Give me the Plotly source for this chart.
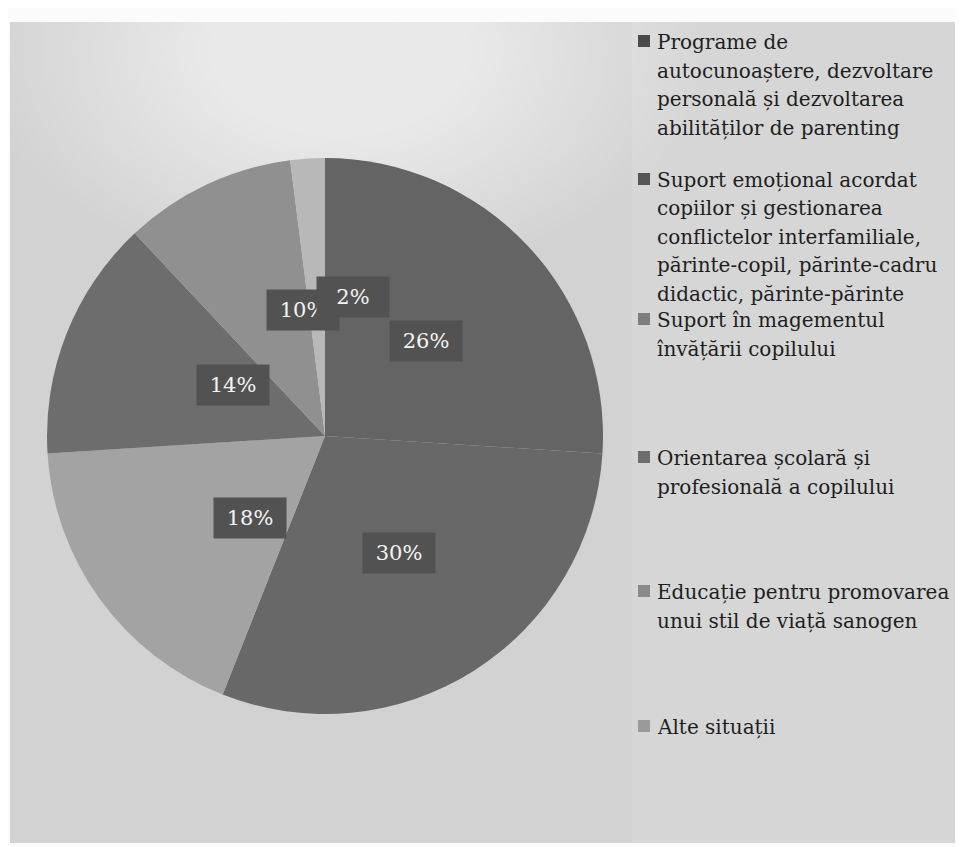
import math
import plotly.graph_objects as go

# ---- data ----
categories = [
    "Programe de<br>autocunoaștere, dezvoltare<br>personală și dezvoltarea<br>abilităților de parenting",
    "Suport emoțional acordat<br>copiilor și gestionarea<br>conflictelor interfamiliale,<br>părinte-copil, părinte-cadru<br>didactic, părinte-părinte",
    "Suport în magementul<br>învățării copilului",
    "Orientarea școlară și<br>profesională a copilului",
    "Educație pentru promovarea<br>unui stil de viață sanogen",
    "Alte situații",
]
values = [26, 30, 18, 14, 10, 2]
slice_colors = ["#646464", "#686868", "#a3a3a3", "#6d6d6d", "#909090", "#b8b8b8"]
legend_marker_colors = ["#4a4a4a", "#555555", "#7d7d7d", "#6e6e6e", "#8a8a8a", "#9a9a9a"]
legend_line_centers = [42, 180, 320, 458, 592, 727]   # page px, first line of each legend entry

W, H = 963, 847
OFF = 8  # default body margin of the html page
PITCH = 28.5


def px(x):
    return (x - OFF) / W


def py(y):
    return 1 - (y - OFF) / H


cx, cy, R = 325, 436, 278  # pie centre / radius in page px

fig = go.Figure()
fig.add_trace(go.Pie(
    labels=[c.replace("<br>", " ") for c in categories],
    values=values,
    sort=False,
    direction="clockwise",
    rotation=0,
    marker=dict(colors=slice_colors, line=dict(width=0)),
    textinfo="none",
    hoverinfo="label+percent",
    showlegend=False,
    domain=dict(x=[px(cx - R), px(cx + R)], y=[py(cy + R), py(cy - R)]),
))

shapes = []
# chart background
shapes.append(dict(type="rect", xref="paper", yref="paper", x0=px(10), x1=px(958),
                   y0=py(843), y1=py(22), fillcolor="#d2d2d2", line=dict(width=0), layer="below"))
shapes.append(dict(type="rect", xref="paper", yref="paper", x0=px(632), x1=px(958),
                   y0=py(843), y1=py(22), fillcolor="rgba(255,255,255,0.10)", line=dict(width=0), layer="below"))
# soft light glow at top
n = 30
for k in range(n):
    f = 1 - k / n
    rx, ry = 50 + 310 * f, 35 + 200 * f
    shapes.append(dict(type="circle", xref="paper", yref="paper",
                       x0=px(340 - rx), x1=px(340 + rx),
                       y0=py(50 + ry), y1=py(50 - ry),
                       fillcolor="rgba(255,255,255,0.042)", line=dict(width=0), layer="below"))
# legend squares
for col, yc in zip(legend_marker_colors, legend_line_centers):
    shapes.append(dict(type="rect", xref="paper", yref="paper", x0=px(638), x1=px(650),
                       y0=py(yc + 5), y1=py(yc - 7), fillcolor=col, line=dict(width=0)))

annotations = []
# percentage labels
total = sum(values)
cum = 0
for v in values:
    mid = (cum + v / 2) / total * 2 * math.pi
    x = cx + 0.5 * R * math.sin(mid)
    y = cy - 0.5 * R * math.cos(mid)
    cum += v
    annotations.append(dict(x=px(x), y=py(y), xref="paper", yref="paper",
                            text=f"{v}%", showarrow=False,
                            font=dict(family="DejaVu Serif", size=21, color="#f4f4f4"),
                            bgcolor="#525252", width=58, height=26, borderpad=7))
# legend texts (one annotation per line)
for txt, yc in zip(categories, legend_line_centers):
    for i, line in enumerate(txt.split("<br>")):
        annotations.append(dict(x=px(655), y=py(yc + i * PITCH), xref="paper", yref="paper",
                                xanchor="left", yanchor="middle", align="left", text=line,
                                showarrow=False,
                                font=dict(family="DejaVu Serif", size=20, color="#1e1e1e")))

fig.update_layout(
    width=W, height=H,
    margin=dict(l=0, r=0, t=0, b=0),
    paper_bgcolor="#fbfbfb",
    plot_bgcolor="#fbfbfb",
    shapes=shapes,
    annotations=annotations,
)
fig.write_html("out.html")
